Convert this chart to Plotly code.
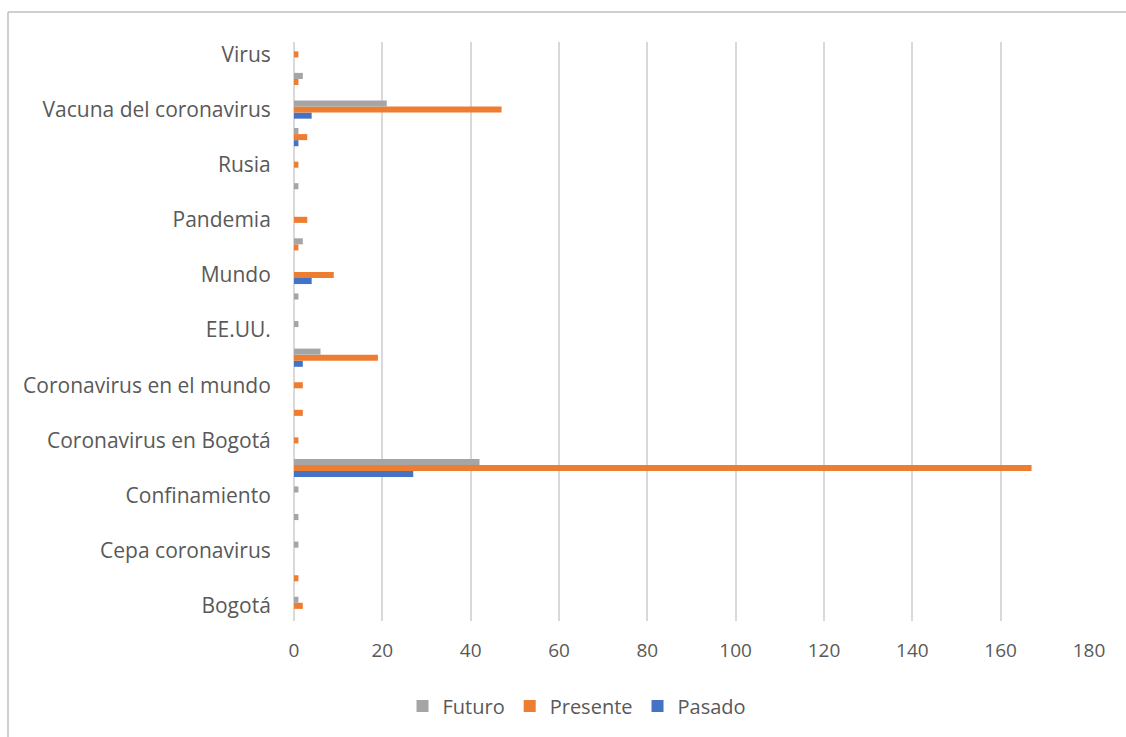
import plotly.graph_objects as go

# Etiquetas visibles del eje de categorías (una de cada dos categorías)
etiquetas = [
    "Bogotá", "Cepa coronavirus", "Confinamiento", "Coronavirus en Bogotá",
    "Coronavirus en el mundo", "EE.UU.", "Mundo", "Pandemia", "Rusia",
    "Vacuna del coronavirus", "Virus",
]

# Valores por categoría, de abajo (Bogotá) hacia arriba (Virus): 21 categorías
futuro = [1, 0, 1, 1, 1, 42, 0, 0, 0, 6, 1, 1, 0, 2, 0, 1, 0, 1, 21, 2, 0]
presente = [2, 1, 0, 0, 0, 167, 1, 2, 2, 19, 0, 0, 9, 1, 3, 0, 1, 3, 47, 1, 1]
pasado = [0, 0, 0, 0, 0, 27, 0, 0, 0, 2, 0, 0, 4, 0, 0, 0, 0, 1, 4, 0, 0]

posiciones = list(range(len(futuro)))

GRIS = "#A5A5A5"
NARANJA = "#ED7D31"
AZUL = "#4472C4"
TEXTO = "#595959"
FUENTE = "Open Sans, Noto Sans, sans-serif"

fig = go.Figure()
for nombre, valores, color in [
    ("Pasado", pasado, AZUL),
    ("Presente", presente, NARANJA),
    ("Futuro", futuro, GRIS),
]:
    fig.add_trace(go.Bar(
        name=nombre, x=valores, y=posiciones, orientation="h",
        marker=dict(color=color, line=dict(width=0)),
    ))

W, H = 1126, 737
L, R, T, B = 294, 37, 42, 116
pw, ph = W - L - R, H - T - B

def px_x(p):
    return (p - L) / pw

def px_y(p):
    return (H - B - p) / ph

fig.update_layout(
    width=W, height=H,
    margin=dict(l=L, r=R, t=T, b=B),
    paper_bgcolor="white", plot_bgcolor="white",
    barmode="group", bargap=0.34, bargroupgap=0,
    font=dict(family=FUENTE, color=TEXTO, size=20),
    xaxis=dict(
        range=[0, 180], dtick=20, tick0=0,
        showgrid=True, gridcolor="#D9D9D9", gridwidth=1.5,
        zeroline=True, zerolinecolor="#D9D9D9", zerolinewidth=1.5,
        showline=False,
        ticks="outside", ticklen=12, tickcolor="rgba(0,0,0,0)",
        tickfont=dict(size=19, color=TEXTO, family=FUENTE),
        fixedrange=True,
    ),
    yaxis=dict(
        range=[-0.55, 20.45],
        tickmode="array", tickvals=posiciones[::2], ticktext=etiquetas,
        showgrid=False, zeroline=False, showline=False,
        ticks="outside", ticklen=18, tickcolor="rgba(0,0,0,0)",
        tickfont=dict(size=21, color=TEXTO, family=FUENTE),
        fixedrange=True,
    ),
    legend=dict(
        orientation="h", traceorder="reversed",
        x=px_x(577), xanchor="center", y=px_y(706), yanchor="middle",
        font=dict(size=20, color=TEXTO, family=FUENTE),
        itemwidth=30, bgcolor="rgba(0,0,0,0)",
    ),
    shapes=[
        # Borde del área del gráfico (izquierda y arriba)
        dict(type="line", xref="paper", yref="paper",
             x0=px_x(8), x1=px_x(1130), y0=px_y(12), y1=px_y(12),
             line=dict(color="#BFBFBF", width=1.5)),
        dict(type="line", xref="paper", yref="paper",
             x0=px_x(8), x1=px_x(8), y0=px_y(12), y1=px_y(740),
             line=dict(color="#BFBFBF", width=1.5)),
    ],
)

fig.write_html("out.html")
